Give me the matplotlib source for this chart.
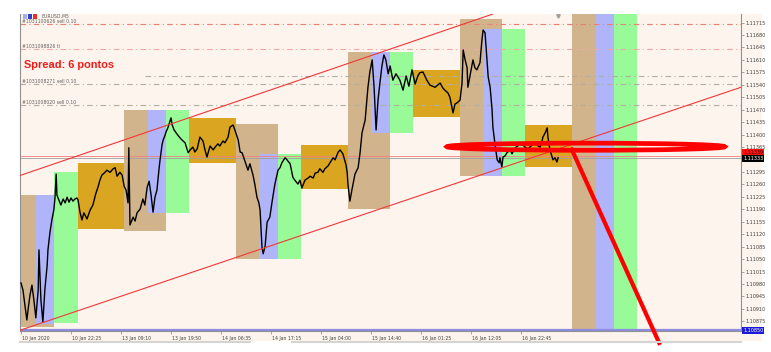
import matplotlib
matplotlib.use("Agg")
import matplotlib.transforms as mtransforms
from matplotlib import pyplot as plt
from matplotlib.patches import Rectangle, Ellipse

# EURUSD M5 closes, x = bar number counted from the first bar on screen
bars = [0, 5, 10, 15, 18, 23, 28, 33, 38, 44, 46, 51, 56, 61, 67, 69, 74, 79, 84, 87,
        90, 92, 97, 102, 108, 113, 118, 123, 128, 133, 138, 143, 146, 151, 156, 161, 169, 177, 184, 192,
        197, 202, 207, 215, 220, 228, 236, 241, 246, 253, 259, 264, 269, 274, 276, 279, 287, 292, 297, 305,
        312, 317, 323, 328, 333, 338, 343, 348, 353, 356, 361, 364, 369, 371, 376, 384, 387, 392, 399, 407,
        412, 420, 428, 433, 440, 445, 451, 458, 466, 471, 476, 484, 492, 497, 504, 509, 517, 522, 530, 535,
        543, 550, 556, 561, 566, 573, 581, 586, 594, 599, 604, 609, 612, 617, 620, 625, 630, 637, 643, 650,
        658, 663, 668, 676, 681, 689, 696, 701, 709, 714, 719, 727, 735, 740, 748, 753, 760, 765, 773, 778,
        786, 791, 799, 804, 812, 817, 824, 832, 835, 837, 842, 847, 855, 863, 868, 873, 881, 888, 893, 899,
        904, 909, 914, 919, 924, 929, 934, 940, 945, 952, 960, 970, 978, 986, 993, 1001, 1009, 1016, 1021, 1029,
        1039, 1047, 1060, 1073, 1080, 1085, 1093, 1098, 1103, 1106, 1111, 1116, 1124, 1129, 1132, 1137, 1142, 1144, 1149, 1157,
        1162, 1167, 1175, 1180, 1183, 1188, 1193, 1196, 1201, 1206, 1208, 1213, 1219, 1224, 1226, 1231, 1234, 1239, 1244, 1252,
        1257, 1265, 1272, 1277, 1285, 1290, 1298, 1303, 1311, 1316, 1324, 1329, 1334, 1336, 1342, 1347, 1349, 1354, 1359, 1362,
        1367, 1372, 1375]
prices = [1.10983, 1.10963, 1.10921, 1.10879, 1.10907, 1.10949, 1.10977, 1.10935, 1.10885, 1.10963,
          1.11076, 1.10935, 1.10873, 1.10963, 1.11033, 1.11076, 1.11124, 1.11160, 1.11188, 1.11222,
          1.11289, 1.11230, 1.11216, 1.11202, 1.11219, 1.11208, 1.11224, 1.11210, 1.11222, 1.11213,
          1.11219, 1.11222, 1.11216, 1.11182, 1.11160, 1.11180, 1.11163, 1.11188, 1.11202, 1.11236,
          1.11252, 1.11272, 1.11286, 1.11294, 1.11300, 1.11294, 1.11304, 1.11307, 1.11283, 1.11294,
          1.11286, 1.11255, 1.11244, 1.11208, 1.11363, 1.11146, 1.11168, 1.11157, 1.11180, 1.11191,
          1.11219, 1.11202, 1.11252, 1.11269, 1.11230, 1.11182, 1.11224, 1.11244, 1.11300, 1.11329,
          1.11371, 1.11385, 1.11399, 1.11407, 1.11419, 1.11447, 1.11427, 1.11413, 1.11402, 1.11391,
          1.11385, 1.11377, 1.11349, 1.11357, 1.11365, 1.11351, 1.11360, 1.11393, 1.11382, 1.11357,
          1.11337, 1.11368, 1.11357, 1.11365, 1.11374, 1.11368, 1.11382, 1.11377, 1.11393, 1.11421,
          1.11427, 1.11405, 1.11385, 1.11351, 1.11349, 1.11326, 1.11300, 1.11318, 1.11286, 1.11258,
          1.11224, 1.11208, 1.11188, 1.11082, 1.11065, 1.11087, 1.11154, 1.11168, 1.11213, 1.11261,
          1.11300, 1.11307, 1.11321, 1.11335, 1.11329, 1.11318, 1.11280, 1.11272, 1.11261, 1.11272,
          1.11250, 1.11272, 1.11278, 1.11283, 1.11278, 1.11292, 1.11294, 1.11304, 1.11294, 1.11304,
          1.11312, 1.11321, 1.11335, 1.11329, 1.11351, 1.11357, 1.11346, 1.11315, 1.11294, 1.11261,
          1.11213, 1.11244, 1.11289, 1.11307, 1.11349, 1.11405, 1.11441, 1.11531, 1.11576, 1.11610,
          1.11531, 1.11413, 1.11497, 1.11547, 1.11593, 1.11624, 1.11610, 1.11571, 1.11593, 1.11553,
          1.11571, 1.11553, 1.11525, 1.11565, 1.11536, 1.11582, 1.11542, 1.11565, 1.11574, 1.11576,
          1.11553, 1.11539, 1.11533, 1.11545, 1.11531, 1.11525, 1.11517, 1.11505, 1.11477, 1.11461,
          1.11486, 1.11489, 1.11497, 1.11545, 1.11638, 1.11610, 1.11588, 1.11533, 1.11562, 1.11610,
          1.11588, 1.11582, 1.11602, 1.11666, 1.11694, 1.11686, 1.11610, 1.11562, 1.11533, 1.11469,
          1.11421, 1.11377, 1.11329, 1.11321, 1.11335, 1.11309, 1.11337, 1.11340, 1.11349, 1.11357,
          1.11346, 1.11363, 1.11368, 1.11377, 1.11371, 1.11365, 1.11360, 1.11365, 1.11374, 1.11377,
          1.11368, 1.11365, 1.11382, 1.11393, 1.11405, 1.11419, 1.11393, 1.11357, 1.11340, 1.11329,
          1.11335, 1.11323, 1.11335]

time_ticks = [0, 128, 256, 384, 512, 640, 768, 896, 1024, 1152, 1280]
time_labels = ["10 Jan 2020", "10 Jan 22:25", "13 Jan 09:10", "13 Jan 19:50", "14 Jan 06:35",
               "14 Jan 17:15", "15 Jan 04:00", "15 Jan 14:40", "16 Jan 01:25", "16 Jan 12:05",
               "16 Jan 22:45"]
price_ticks = [1.11715, 1.11680, 1.11645, 1.11610, 1.11575, 1.11540, 1.11505, 1.11470,
               1.11435, 1.11400, 1.11365, 1.11295, 1.11260, 1.11225, 1.11190, 1.11155,
               1.11120, 1.11085, 1.11050, 1.11015, 1.10980, 1.10945, 1.10910, 1.10875]

# session boxes (start bar, end bar, low, high); last day is projected full height
tan_start = [-25, 264, 550, 837, 1124, 1411]
tan_end = [84, 371, 658, 945, 1231, 1472]
tan_low = [1.10859, 1.11129, 1.11051, 1.11191, 1.11283, 1.10800]
tan_high = [1.11230, 1.11469, 1.11430, 1.11632, 1.11725, 1.11800]
blue_start = [38, 325, 609, 896, 1183, 1472]
blue_end = [84, 371, 658, 945, 1231, 1518]
blue_low = [1.10868, 1.11180, 1.11051, 1.11405, 1.11283, 1.10800]
blue_high = [1.11230, 1.11469, 1.11346, 1.11632, 1.11697, 1.11800]
green_start = [84, 371, 658, 945, 1231, 1518]
green_end = [146, 430, 717, 1004, 1290, 1577]
green_low = [1.10871, 1.11180, 1.11051, 1.11405, 1.11283, 1.10800]
green_high = [1.11294, 1.11469, 1.11346, 1.11632, 1.11697, 1.11800]
gold_start = [146, 430, 717, 1004, 1290]
gold_end = [264, 550, 837, 1124, 1411]
gold_low = [1.11135, 1.11321, 1.11247, 1.11449, 1.11309]
gold_high = [1.11321, 1.11447, 1.11371, 1.11582, 1.11427]

# channel anchor points (bar, price)
upper_a, upper_b = (0, 1.11286), (1208, 1.11739)
lower_a, lower_b = (0, 1.10851), (1843, 1.11533)

# order lines
order_prices = [1.11711, 1.11641, 1.11542, 1.11483]
order_labels = ["#1031100626 sell 0.10", "#1031098826 tl", "#1031008271 sell 0.10", "#1031008020 sell 0.10"]
order_colors = ["#e88070", "#f0a8a8", "#b0b0a0", "#b0b0a0"]
tp_price, tp_from = 1.11565, 317

bid, ask, low_mark = 1.11333, 1.11339, 1.10850

# hand drawn marks
ellipse_center = (1446, 1.11366)
ellipse_w, ellipse_h = 711, 0.00020
arrow_bars = [1408, 1636]
arrow_prices = [1.11363, 1.10809]

bg = "#fdf4ed"
W, H = 771, 352
fig = plt.figure(figsize=(W / 100, H / 100), dpi=100, facecolor="white")
fig.patches.append(Rectangle((20 / W, 1 - 341 / H), 742 / W, 327 / H, transform=fig.transFigure,
                             facecolor=bg, edgecolor="none", zorder=-10))
ax = fig.add_axes([20 / W, 1 - 331 / H, 721 / W, 317 / H])
ax.set_facecolor(bg)
ax.set_xlim(-2.56, 1843.2)
ax.set_ylim(1.10848, 1.11739)

def boxes(starts, ends, lows, highs, color):
    for s, e, lo, hi in zip(starts, ends, lows, highs):
        ax.add_patch(Rectangle((s, lo), e - s, hi - lo, facecolor=color, edgecolor="none", zorder=1))

boxes(tan_start, tan_end, tan_low, tan_high, "#d2b48c")
boxes(blue_start, blue_end, blue_low, blue_high, "#b0b4f8")
boxes(green_start, green_end, green_low, green_high, "#98fb98")
boxes(gold_start, gold_end, gold_low, gold_high, "#daa520")

dash = (0, (5, 3, 1, 3))
for p, lab, c in zip(order_prices, order_labels, order_colors):
    ax.axhline(p, color=c, lw=0.8, ls=dash, zorder=2)
    ax.text(2, p + 0.00008, lab, fontsize=3.3, color="#606060", va="center", zorder=5)
ax.plot([tp_from, 1843.2], [tp_price, tp_price], color="#b0b0a0", lw=0.8, ls=dash, zorder=2)

ax.axhline(ask, color="#f08080", lw=0.6, zorder=2)
ax.axhline(bid, color="#a0a0a0", lw=0.6, zorder=2)
ax.axhline(low_mark, color="#8c8ce0", lw=1.6, zorder=2)

ax.plot(bars, prices, color="black", lw=1.0, zorder=3)

ax.axline(upper_a, upper_b, color="#f03838", lw=0.8, zorder=4)
ax.axline(lower_a, lower_b, color="#f03838", lw=0.8, zorder=4)

ax.add_patch(Ellipse(ellipse_center, ellipse_w, ellipse_h, fill=False, edgecolor="#ff0000",
                     lw=3.4, zorder=6))
ax.plot(arrow_bars, arrow_prices, color="#ff0000", lw=3.0, solid_capstyle="butt",
        clip_on=False, zorder=6)

ax.plot([1375], [1.11733], marker="v", ms=2.5, color="#a0a0a0", clip_on=False, zorder=5)

ax.text(8, 1.11595, "Spread: 6 pontos", fontsize=7.9, fontweight="bold", color="#f01c1c",
        family="Liberation Sans", va="center", zorder=7)
ax.text(52, 1.11733, "EURUSD,M5", fontsize=3.3, color="#606060", va="center", zorder=7)
for i, c in enumerate(["#a0b0f0", "#3040c0", "#e03030"]):
    ax.add_patch(Rectangle((5 + i * 13, 1.11724), 11, 0.00015, facecolor=c, edgecolor="none", zorder=7))

# axes, MT4 style
for side in ["left", "bottom", "right"]:
    ax.spines[side].set_color("#909090")
    ax.spines[side].set_linewidth(0.8)
ax.spines["top"].set_visible(False)

ax.yaxis.tick_right()
ax.set_yticks(price_ticks)
ax.set_yticklabels(["%.5f" % v for v in price_ticks])
ax.tick_params(axis="y", length=2, width=0.5, color="#808080", pad=1, labelsize=3.5,
               labelcolor="#404040")
ax.set_xticks(time_ticks)
ax.set_xticklabels(time_labels, ha="left")
ax.tick_params(axis="x", length=2.5, width=0.5, color="#808080", pad=1, labelsize=3.3,
               labelcolor="#404040")
shift = mtransforms.ScaledTranslation(1.5 / 100, 0, fig.dpi_scale_trans)
for lab in ax.get_xticklabels():
    lab.set_transform(lab.get_transform() + shift)

yt = mtransforms.blended_transform_factory(ax.transAxes, ax.transData)
box = dict(boxstyle="square,pad=0.2", edgecolor="none")
ax.text(1.003, ask + 0.00012, "1.11339", transform=yt, fontsize=3.5, color="#400000",
        va="center", bbox=dict(box, facecolor="#ff1010"), clip_on=False, zorder=8)
ax.text(1.003, bid, "1.11333", transform=yt, fontsize=3.5, color="white",
        va="center", bbox=dict(box, facecolor="black"), clip_on=False, zorder=9)
ax.text(1.003, low_mark, "1.10850", transform=yt, fontsize=3.5, color="white",
        va="center", bbox=dict(box, facecolor="#1a1ad8"), clip_on=False, zorder=9)

fig.add_artist(plt.Line2D([20 / W, 250 / W], [1 - 342 / H] * 2, color="#d4d4d4", lw=1.5))
fig.add_artist(plt.Line2D([292 / W, 741 / W], [1 - 342 / H] * 2, color="#d4d4d4", lw=1.5))

fig.savefig("out.png", dpi=100, facecolor="white")
